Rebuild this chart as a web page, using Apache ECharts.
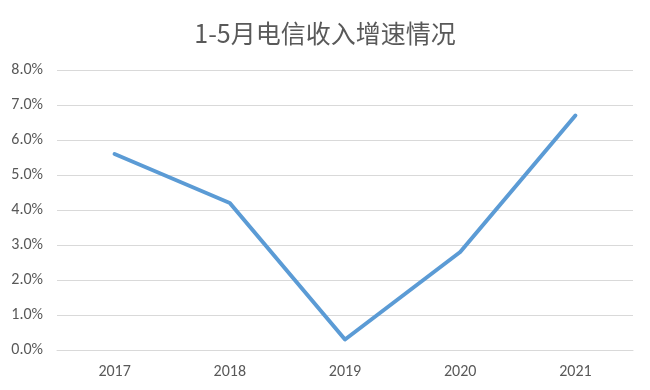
<!DOCTYPE html>
<html><head><meta charset="utf-8">
<script src="https://cdn.jsdelivr.net/npm/echarts@6/dist/echarts.min.js"></script>
<style>html,body{margin:0;padding:0;background:#fff}#c{width:650px;height:390px}</style>
</head><body><div id="c"></div>
<script>
const titleText = '1-5月电信收入增速情况';
const categories = ['2017', '2018', '2019', '2020', '2021'];
const growth = [5.6, 4.2, 0.3, 2.8, 6.7];
const yTicks = [0, 1, 2, 3, 4, 5, 6, 7, 8];

const chart = echarts.init(document.getElementById('c'), null, {renderer: 'canvas'});
chart.setOption({
  backgroundColor: '#fff',
  animation: false,
  title: {
    text: titleText, left: 'center', top: 16,
    textStyle: {fontFamily: '"Noto Sans CJK SC", sans-serif', fontSize: 25, fontWeight: 'normal', color: '#595959'}
  },
  grid: {left: 57, right: 17, top: 70, bottom: 40, containLabel: false},
  xAxis: {
    type: 'category', data: categories, boundaryGap: true,
    axisLine: {show: true, lineStyle: {color: '#d9d9d9', width: 1}},
    axisTick: {show: false},
    axisLabel: {color: '#595959', fontSize: 16, fontFamily: 'Calibri, Carlito, "Liberation Sans", sans-serif', margin: 14}
  },
  yAxis: {
    type: 'value', min: yTicks[0], max: yTicks[yTicks.length - 1], interval: 1,
    axisLine: {show: false}, axisTick: {show: false},
    splitLine: {lineStyle: {color: '#d9d9d9', width: 1}},
    axisLabel: {color: '#595959', fontSize: 16, margin: 14, fontFamily: 'Calibri, Carlito, "Liberation Sans", sans-serif',
      formatter: v => v.toFixed(1) + '%'}
  },
  series: [{
    type: 'line', data: growth, symbol: 'none',
    lineStyle: {color: '#5b9bd5', width: 4, cap: 'round', join: 'round'}
  }]
});
</script></body></html>
